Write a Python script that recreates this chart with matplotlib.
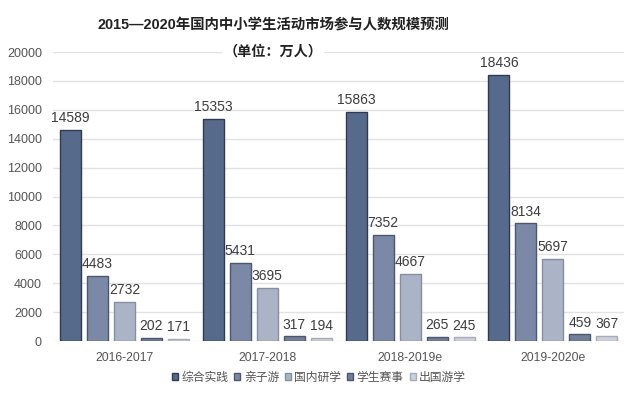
import matplotlib
matplotlib.use("Agg")
import matplotlib.pyplot as plt
import numpy as np

plt.rcParams['font.family'] = ['Liberation Sans', 'Noto Sans CJK SC', 'DejaVu Sans']

categories = ["2016-2017", "2017-2018", "2018-2019e", "2019-2020e"]
series_names = ["综合实践", "亲子游", "国内研学", "学生赛事", "出国游学"]
zonghe = [14589, 15353, 15863, 18436]
qinzi = [4483, 5431, 7352, 8134]
yanxue = [2732, 3695, 4667, 5697]
saishi = [202, 317, 265, 459]
chuguo = [171, 194, 245, 367]
yticks = [0, 2000, 4000, 6000, 8000, 10000, 12000, 14000, 16000, 18000, 20000]
title = "2015—2020年国内中小学生活动市场参与人数规模预测"
subtitle = "（单位：万人）"

series = [zonghe, qinzi, yanxue, saishi, chuguo]
colors = ["#566a8c", "#7c89a6", "#abb3c6", "#727f99", "#cbd0d9"]
edges = ["#2e3b52", "#4b5670", "#868ea2", "#4b5670", "#a5abb8"]

fig = plt.figure(figsize=(6.25, 3.98), dpi=100)
ax = fig.add_axes([0.0848, 0.1432, 0.9142, 0.7261])

x = np.arange(len(categories))
width = 0.147
step = 0.189
for i, (vals, c, ec, name) in enumerate(zip(series, colors, edges, series_names)):
    pos = x + (i - 2) * step
    bars = ax.bar(pos, vals, width, color=c, edgecolor=ec, linewidth=1.0, label=name, zorder=3)
    for b, v in zip(bars, vals):
        ax.annotate(str(v), (b.get_x() + b.get_width() / 2, v), xytext=(0, 3.5),
                    textcoords="offset points", ha="center", va="bottom",
                    fontsize=10, color="#3d3d3d", zorder=4)

ax.set_xlim(-0.5, 3.5)
ax.set_ylim(0, 20000)
ax.set_yticks(yticks)
ax.set_yticklabels([str(t) for t in yticks], fontsize=9, color="#555555")
ax.set_xticks(x)
ax.set_xticklabels(categories, fontsize=8.8, color="#555555")
ax.tick_params(axis='y', length=0, pad=8)
ax.tick_params(axis='x', length=0, pad=8)
ax.grid(axis='y', color="#e2e2e2", linewidth=1.0, zorder=0)
for s in ax.spines.values():
    s.set_visible(False)

fig.text(273 / 625, 1 - 25 / 398, title, ha="center", va="center",
         fontsize=10.4, fontweight="bold", color="#222222")
fig.text(273 / 625, 1 - 52 / 398, subtitle, ha="center", va="center",
         fontsize=10.2, fontweight="bold", color="#222222",
         bbox=dict(facecolor="white", edgecolor="none", pad=1))

leg = fig.legend(loc="center", bbox_to_anchor=(319 / 625, 1 - 378 / 398), ncol=5,
                 frameon=False, fontsize=8.5, handlelength=0.5, handleheight=0.5,
                 handletextpad=0.3, columnspacing=0.5, borderaxespad=0)
for t in leg.get_texts():
    t.set_color("#555555")

fig.savefig("out.png", dpi=100)
